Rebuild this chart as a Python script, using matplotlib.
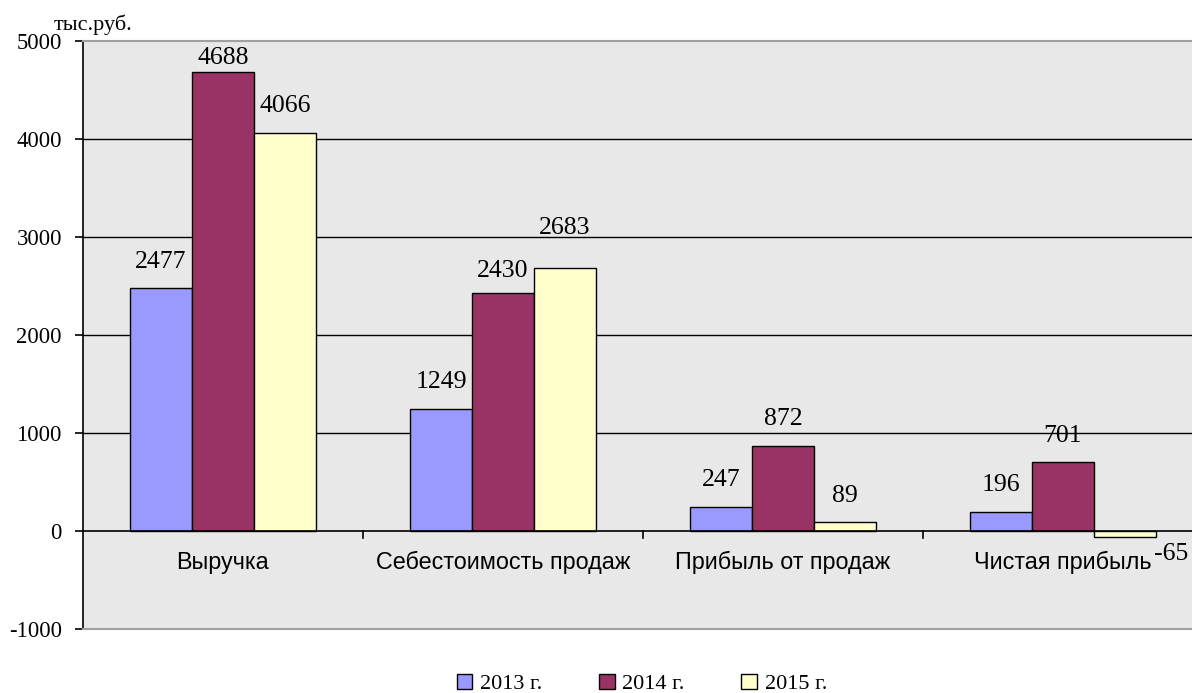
import matplotlib
matplotlib.use("Agg")
import matplotlib.pyplot as plt
from matplotlib.patches import Patch
import numpy as np

categories = ["Выручка", "Себестоимость продаж", "Прибыль от продаж", "Чистая прибыль"]
years = ["2013 г.", "2014 г.", "2015 г."]
v2013 = [2477, 1249, 247, 196]
v2014 = [4688, 2430, 872, 701]
v2015 = [4066, 2683, 89, -65]
yticks = [-1000, 0, 1000, 2000, 3000, 4000, 5000]

series = [v2013, v2014, v2015]
colors = ["#9999FF", "#993366", "#FFFFCC"]
# label vertical offsets (points above bar top), per series / category
label_offsets = [[19, 19, 19, 19], [10, 16, 19, 19], [19, 29, 19, 19]]

serif = ["Liberation Serif", "DejaVu Serif"]
sans = ["Liberation Sans", "DejaVu Sans"]

W, H = 1192, 693
fig = plt.figure(figsize=(W/100, H/100), dpi=100)
left, right, top, bottom = 83, 1192, 41, 629
ax = fig.add_axes([left/W, 1-bottom/H, (right-left)/W, (bottom-top)/H])
ax.set_facecolor("#e8e8e8")

cat_px = 280.0
x = np.arange(len(categories))
w = 62/cat_px
for i, (vals, c) in enumerate(zip(series, colors)):
    pos = x + (i - 1) * w
    ax.bar(pos, vals, width=w, color=c, edgecolor="black", linewidth=1.0, zorder=3, label=years[i])
    for j, (p, v) in enumerate(zip(pos, vals)):
        if v < 0:
            ax.annotate(str(v), (p + w/2, v), xytext=(11, -12), textcoords="offset points",
                        ha="center", va="center", fontsize=18.5, family=serif, zorder=5)
        else:
            ax.annotate(str(v), (p, v), xytext=(0, label_offsets[i][j]), textcoords="offset points",
                        ha="center", va="center", fontsize=18.5, family=serif, zorder=5)

ax.set_xlim(-0.5, -0.5 + (right-left)/cat_px)
ax.set_ylim(-1000, 5000)
ax.set_yticks(yticks)
ax.set_yticklabels([str(t) for t in yticks], fontsize=16.3, family=serif)
for t in yticks[2:-1]:
    ax.axhline(t, color="black", linewidth=1.0, zorder=1)
ax.axhline(0, color="black", linewidth=1.2, zorder=4)

# category boundary ticks on the zero line
for b in np.arange(0.5, len(categories) - 0.5, 1.0):
    ax.plot([b, b], [0, -70], color="black", linewidth=1.2, zorder=4)

ax.set_xticks([])
for xi, cat in zip(x, categories):
    ax.text(xi, -320, cat, ha="center", va="center", fontsize=16.8, family=sans, zorder=5)

ax.tick_params(axis="y", direction="out", length=5.8, width=1.2, pad=9.4)
ax.spines["left"].set_color("black")
ax.spines["left"].set_linewidth(1.2)
ax.spines["right"].set_visible(False)
for s in ["top", "bottom"]:
    ax.spines[s].set_color("#a0a0a0")
    ax.spines[s].set_linewidth(1.5)

fig.text(93/W, 1-25/H, "тыс.руб.", ha="center", va="center", fontsize=16, family=serif)

handles = [Patch(facecolor=c, edgecolor="black", linewidth=1.0) for c in colors]
fig.legend(handles, years, loc="center", bbox_to_anchor=(642/W, 1-684/H), ncol=3,
           frameon=False, prop={"family": serif, "size": 16}, handlelength=0.7, handleheight=0.7,
           handletextpad=0.35, columnspacing=2.55, borderpad=0)

fig.savefig("out.png", dpi=100)
